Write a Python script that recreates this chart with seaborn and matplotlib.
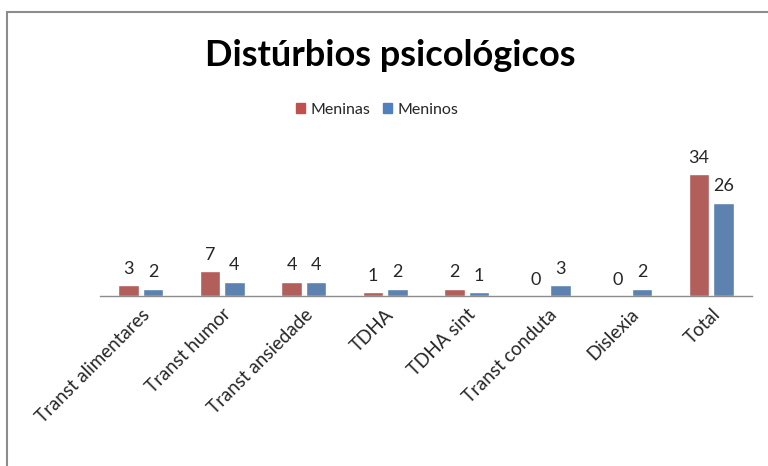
import pandas as pd
import seaborn as sns
import matplotlib.pyplot as plt
from matplotlib.patches import Rectangle

# Chart values
categories = ['Transt alimentares', 'Transt humor', 'Transt ansiedade', 'TDHA',
              'TDHA sint', 'Transt conduta', 'Dislexia', 'Total']
meninas = [3, 7, 4, 1, 2, 0, 0, 34]
meninos = [2, 4, 4, 2, 1, 3, 2, 26]
series = ['Meninas', 'Meninos']
colors = ['#C0504D', '#4F81BD']

df = pd.DataFrame({
    'Categoria': categories * 2,
    'Serie': [series[0]] * len(categories) + [series[1]] * len(categories),
    'Valor': meninas + meninos,
})

sns.set_style('white')
plt.rcParams['font.family'] = ['Lato', 'DejaVu Sans']

fig = plt.figure(figsize=(7.68, 4.66), dpi=100)
ax = fig.add_axes([100 / 768, 170 / 466, 652 / 768, 146 / 466])

sns.barplot(data=df, x='Categoria', y='Valor', hue='Serie', palette=colors,
            width=0.6, gap=0.15, ax=ax, legend=False)

for cont in ax.containers:
    ax.bar_label(cont, padding=6, fontsize=13, color='#262626')

ax.set_ylim(0, 40.7)
ax.set_xlim(-0.5, len(categories) - 0.5)
ax.set_xlabel('')
ax.set_ylabel('')
ax.set_yticks([])
ax.tick_params(axis='x', length=0, pad=7)
ax.set_xticks(range(len(categories)))
ax.set_xticklabels(categories, rotation=45, ha='right', rotation_mode='anchor',
                   fontsize=13.5, color='#262626')
for side in ['top', 'right', 'left']:
    ax.spines[side].set_visible(False)
ax.spines['bottom'].set_color('#8C8C8C')
ax.spines['bottom'].set_linewidth(1)

fig.text(390 / 768, 1 - 55 / 466, 'Distúrbios psicológicos', ha='center', va='center',
         fontsize=26, fontweight='bold', color='black')

handles = [Rectangle((0, 0), 1, 1, color=c) for c in colors]
fig.legend(handles, series, loc='center', bbox_to_anchor=(377 / 768, 1 - 110 / 466),
           ncol=2, frameon=False, fontsize=11.5, handlelength=0.6, handleheight=0.6,
           handletextpad=0.3, columnspacing=0.8, labelcolor='#262626')

# outer chart frame
fig.patches.append(Rectangle((7 / 768, -0.1), 1.1, 1 - 12 / 466 + 0.1,
                             transform=fig.transFigure, fill=False,
                             edgecolor='#8C8C8C', linewidth=1.5))

fig.savefig('out.png', dpi=100)
